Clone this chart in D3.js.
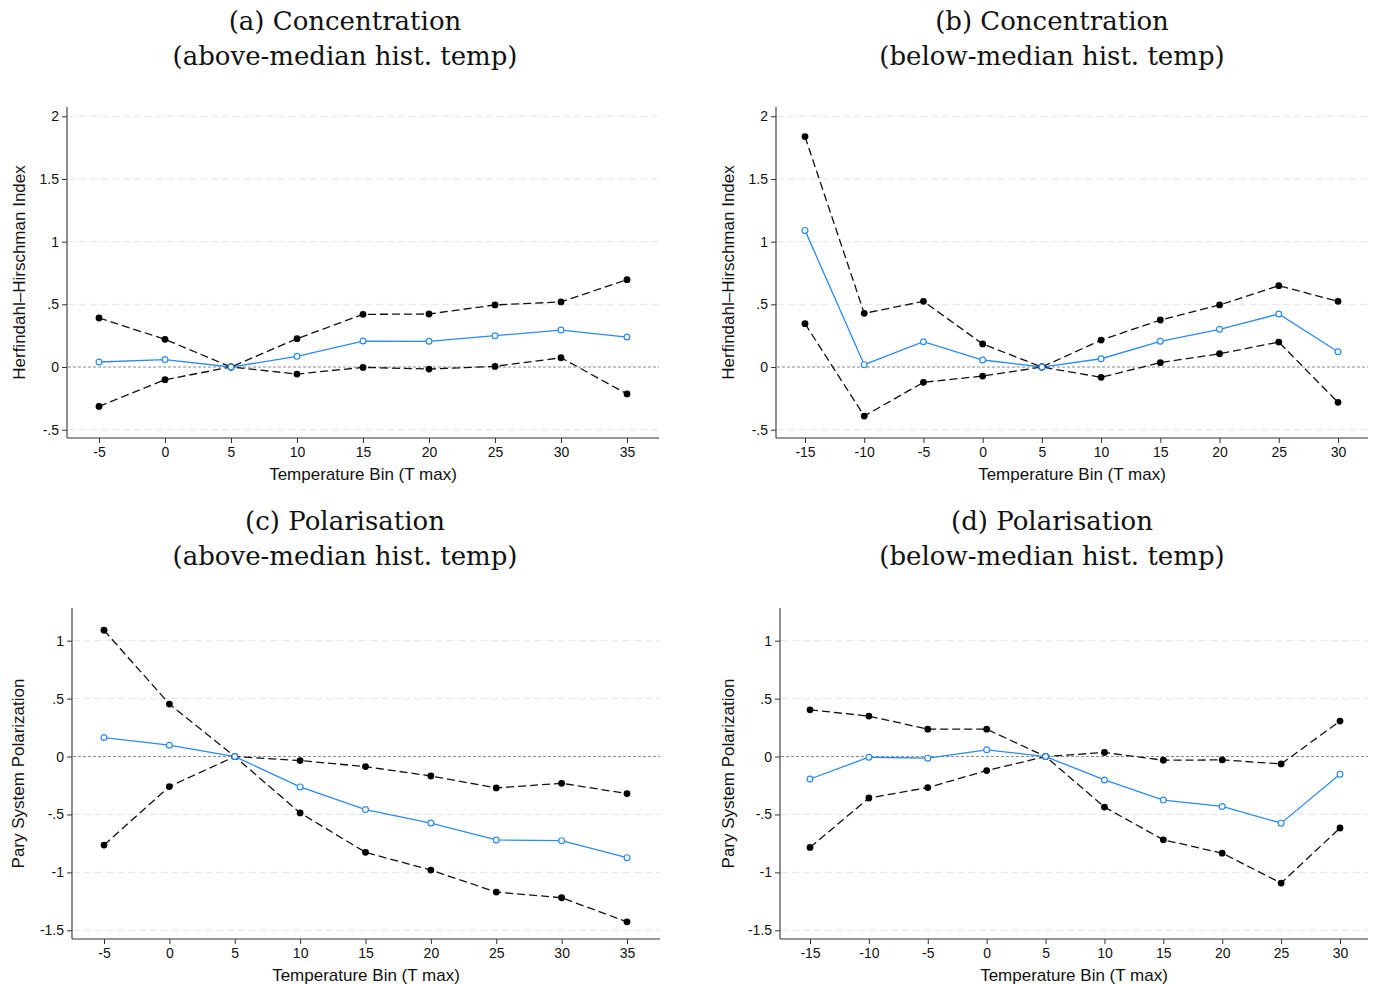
<!DOCTYPE html>
<html>
<head>
<meta charset="utf-8">
<script src="https://cdn.jsdelivr.net/npm/d3@7/dist/d3.min.js"></script>
<style>
html,body{margin:0;padding:0;background:#fff;}
svg{display:block;}
</style>
</head>
<body>
<svg id="chart" width="1380" height="984"></svg>
<script>
// ---------- DATA ----------
const binsAbove = [-5, 0, 5, 10, 15, 20, 25, 30, 35];
const binsBelow = [-15, -10, -5, 0, 5, 10, 15, 20, 25, 30];

// (a) Concentration, above-median
const aPoint = [0.040, 0.059, 0, 0.085, 0.207, 0.205, 0.250, 0.295, 0.239];
const aUpper = [0.391, 0.221, 0, 0.226, 0.420, 0.423, 0.495, 0.519, 0.697];
const aLower = [-0.314, -0.101, 0, -0.056, -0.003, -0.016, 0.005, 0.074, -0.215];

// (b) Concentration, below-median
const bPoint = [1.090, 0.019, 0.202, 0.056, 0, 0.066, 0.205, 0.301, 0.423, 0.122];
const bUpper = [1.838, 0.428, 0.524, 0.184, 0, 0.215, 0.375, 0.495, 0.649, 0.524];
const bLower = [0.346, -0.391, -0.122, -0.072, 0, -0.082, 0.035, 0.106, 0.199, -0.282];

// (c) Polarisation, above-median
const cPoint = [0.164, 0.098, 0, -0.262, -0.458, -0.574, -0.720, -0.726, -0.873];
const cUpper = [1.090, 0.453, 0, -0.035, -0.087, -0.168, -0.271, -0.231, -0.320];
const cLower = [-0.764, -0.259, 0, -0.487, -0.827, -0.980, -1.170, -1.219, -1.427];

// (d) Polarisation, below-median
const dPoint = [-0.194, -0.006, -0.014, 0.058, 0, -0.202, -0.376, -0.431, -0.575, -0.153];
const dUpper = [0.403, 0.349, 0.236, 0.236, 0, 0.035, -0.032, -0.029, -0.064, 0.306];
const dLower = [-0.785, -0.358, -0.268, -0.121, 0, -0.436, -0.719, -0.834, -1.092, -0.617];

const yTicksHHI = [-0.5, 0, 0.5, 1, 1.5, 2];
const yTicksPol = [-1.5, -1, -0.5, 0, 0.5, 1];

const titlesLine1 = ["(a) Concentration", "(b) Concentration", "(c) Polarisation", "(d) Polarisation"];
const titlesLine2 = ["(above-median hist. temp)", "(below-median hist. temp)", "(above-median hist. temp)", "(below-median hist. temp)"];
const yTitleHHI = "Herfindahl\u2013Hirschman Index";
const yTitlePol = "Pary System Polarization";
const xTitle = "Temperature Bin (T max)";

// ---------- LAYOUT ----------
const panels = [
  {bins: binsAbove, pt: aPoint, up: aUpper, lo: aLower, yTicks: yTicksHHI, yTitle: yTitleHHI,
   L: 67, R: 659, T: 107, B: 438, padL: 32, padR: 32, yTopVal: 2, yTopPx: 116.3, yBotVal: -0.5, yBotPx: 429.7,
   tx: 345, ty: 30, yTitleX: 25},
  {bins: binsBelow, pt: bPoint, up: bUpper, lo: bLower, yTicks: yTicksHHI, yTitle: yTitleHHI,
   L: 776, R: 1368, T: 107, B: 438, padL: 29, padR: 30, yTopVal: 2, yTopPx: 116.3, yBotVal: -0.5, yBotPx: 429.7,
   tx: 1052, ty: 30, yTitleX: 734},
  {bins: binsAbove, pt: cPoint, up: cUpper, lo: cLower, yTicks: yTicksPol, yTitle: yTitlePol,
   L: 72, R: 660, T: 608, B: 939, padL: 32, padR: 33, yTopVal: 1, yTopPx: 640.7, yBotVal: -1.5, yBotPx: 930.3,
   tx: 345, ty: 530, yTitleX: 24},
  {bins: binsBelow, pt: dPoint, up: dUpper, lo: dLower, yTicks: yTicksPol, yTitle: yTitlePol,
   L: 780, R: 1368, T: 608, B: 939, padL: 30, padR: 28, yTopVal: 1, yTopPx: 640.7, yBotVal: -1.5, yBotPx: 930.3,
   tx: 1052, ty: 530, yTitleX: 734}
];

const svg = d3.select("#chart");
const blue = "#2a8af2";
const sans = "'Liberation Sans', Arial, Helvetica, sans-serif";
const serif = "'DejaVu Serif', 'Liberation Serif', serif";
const fmt = v => (v < 0 ? "-" : "") + String(Math.abs(v)).replace(/^0\./, ".");

panels.forEach((p, i) => {
  const g = svg.append("g");
  const x = d3.scaleLinear()
    .domain([p.bins[0], p.bins[p.bins.length - 1]])
    .range([p.L + p.padL, p.R - p.padR]);
  const y = d3.scaleLinear()
    .domain([p.yBotVal, p.yTopVal])
    .range([p.yBotPx, p.yTopPx]);

  // titles
  g.append("text").attr("x", p.tx).attr("y", p.ty)
    .attr("text-anchor", "middle").attr("font-family", serif).attr("font-size", 26)
    .attr("fill", "#111").text(titlesLine1[i]);
  g.append("text").attr("x", p.tx).attr("y", p.ty + 35)
    .attr("text-anchor", "middle").attr("font-family", serif).attr("font-size", 26)
    .attr("fill", "#111").text(titlesLine2[i]);

  // grid
  g.append("g").selectAll("line").data(p.yTicks.filter(v => v !== 0)).join("line")
    .attr("x1", p.L + 1).attr("x2", p.R)
    .attr("y1", d => y(d)).attr("y2", d => y(d))
    .attr("stroke", "#e4e4e4").attr("stroke-width", 1).attr("stroke-dasharray", "7,4");

  // zero reference line
  g.append("line")
    .attr("x1", p.L + 1).attr("x2", p.R)
    .attr("y1", y(0)).attr("y2", y(0))
    .attr("stroke", "#8a8a8a").attr("stroke-width", 1).attr("stroke-dasharray", "3,2");

  // axes
  const yAxis = d3.axisLeft(y).tickValues(p.yTicks).tickSize(5).tickPadding(3).tickFormat(fmt);
  const ya = g.append("g").attr("transform", `translate(${p.L},0)`).call(yAxis);
  ya.select(".domain").remove();
  ya.append("line").attr("x1", 0).attr("x2", 0).attr("y1", p.T).attr("y2", p.B)
    .attr("stroke", "#333").attr("stroke-width", 1.1);

  const xAxis = d3.axisBottom(x).tickValues(p.bins).tickSize(5).tickPadding(4).tickFormat(fmt);
  const xa = g.append("g").attr("transform", `translate(0,${p.B})`).call(xAxis);
  xa.select(".domain").remove();
  xa.append("line").attr("x1", p.L).attr("x2", p.R).attr("y1", 0).attr("y2", 0)
    .attr("stroke", "#333").attr("stroke-width", 1.1);

  [ya, xa].forEach(a => {
    a.selectAll(".tick line").attr("stroke", "#333");
    a.selectAll(".tick text").attr("font-family", sans).attr("font-size", 14).attr("fill", "#111");
  });

  // axis titles
  g.append("text")
    .attr("transform", `translate(${p.yTitleX},${(p.T + p.B) / 2}) rotate(-90)`)
    .attr("text-anchor", "middle").attr("font-family", sans).attr("font-size", 17)
    .attr("fill", "#111").text(p.yTitle);
  g.append("text")
    .attr("x", (p.L + p.R) / 2).attr("y", p.B + 42)
    .attr("text-anchor", "middle").attr("font-family", sans).attr("font-size", 17)
    .attr("fill", "#111").text(xTitle);

  // series
  const line = d3.line().x(d => x(d[0])).y(d => y(d[1]));
  const toPts = arr => p.bins.map((b, j) => [b, arr[j]]);
  [p.up, p.lo].forEach(arr => {
    g.append("path").datum(toPts(arr)).attr("d", line)
      .attr("fill", "none").attr("stroke", "#111").attr("stroke-width", 1.3)
      .attr("stroke-dasharray", "8,4");
  });
  g.append("path").datum(toPts(p.pt)).attr("d", line)
    .attr("fill", "none").attr("stroke", blue).attr("stroke-width", 1.3);

  [p.up, p.lo].forEach(arr => {
    g.append("g").selectAll("circle").data(toPts(arr)).join("circle")
      .attr("cx", d => x(d[0])).attr("cy", d => y(d[1])).attr("r", 3.4)
      .attr("fill", "#000");
  });
  g.append("g").selectAll("circle").data(toPts(p.pt)).join("circle")
    .attr("cx", d => x(d[0])).attr("cy", d => y(d[1])).attr("r", 2.9)
    .attr("fill", "#fff").attr("stroke", blue).attr("stroke-width", 1.2);
});
</script>
</body>
</html>
